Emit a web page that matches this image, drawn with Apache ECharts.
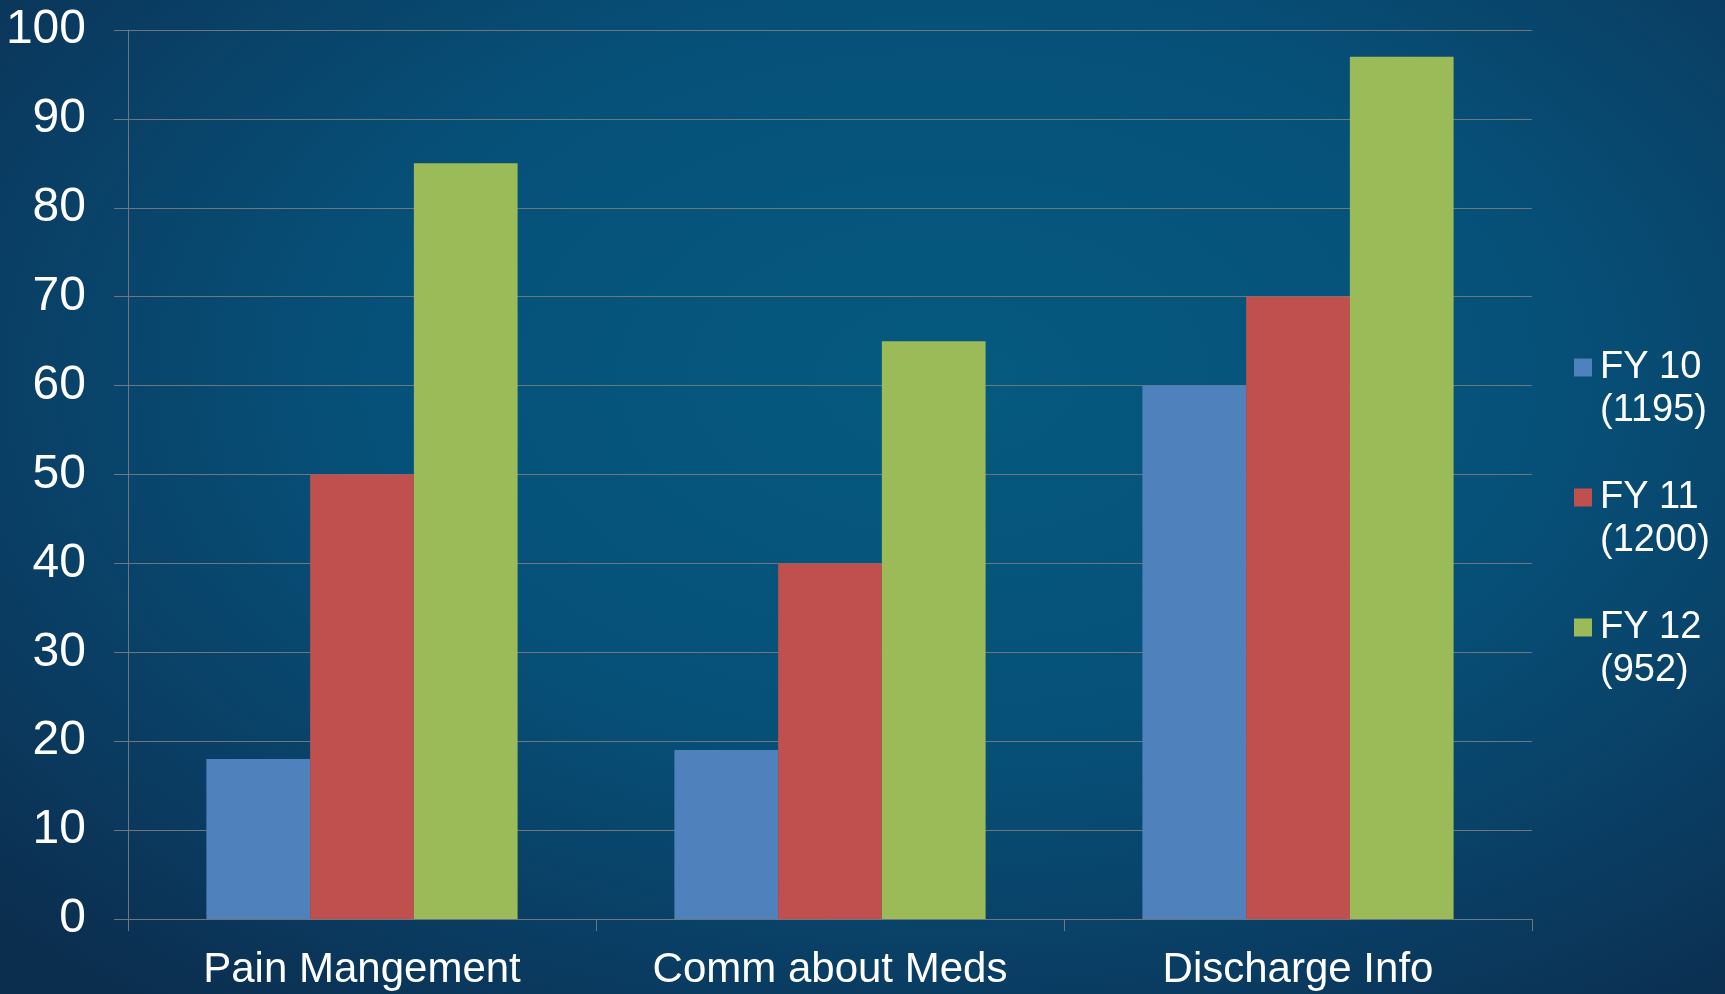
<!DOCTYPE html>
<html>
<head>
<meta charset="utf-8">
<script src="https://cdn.jsdelivr.net/npm/echarts@6/dist/echarts.min.js"></script>
<style>
  html, body { margin: 0; padding: 0; }
  body {
    width: 1725px; height: 994px; overflow: hidden;
    background: radial-gradient(ellipse 75% 80% at 55% 38%, #05597f 0%, #065179 45%, #0a3e64 75%, #0b2e4f 100%);
  }
  #chart { width: 1725px; height: 994px; }
</style>
</head>
<body>
<div id="chart"></div>
<script>
// Survey categories and yearly scores (sample size in legend)
const categories = ['Pain Mangement', 'Comm about Meds', 'Discharge Info'];
const seriesNames = ['FY 10\n(1195)', 'FY 11\n(1200)', 'FY 12\n(952)'];
const fy10 = [18, 19, 60];
const fy11 = [50, 40, 70];
const fy12 = [85, 65, 97];
const colors = ['#4f81bd', '#c0504d', '#9bbb59'];

const axisGray = '#6f777c';
const font = 'Liberation Sans, Arial, sans-serif';

const chart = echarts.init(document.getElementById('chart'), null, { renderer: 'canvas' });

const values = [fy10, fy11, fy12];
const series = values.map((data, i) => ({
  name: seriesNames[i],
  type: 'bar',
  data: data,
  barGap: '0%',
  barCategoryGap: '33.5%',
  itemStyle: { color: colors[i] },
  emphasis: { disabled: true }
}));

chart.setOption({
  backgroundColor: 'transparent',
  animation: false,
  color: colors,
  grid: { left: 128, right: 193, top: 30, bottom: 75, containLabel: false },
  legend: {
    orient: 'vertical',
    left: 1574,
    top: 303,
    padding: 0,
    itemWidth: 18,
    itemHeight: 18,
    itemGap: 1,
    icon: 'rect',
    selectedMode: false,
    formatter: name => '\n' + name,
    textStyle: {
      color: '#ffffff',
      fontFamily: font,
      fontSize: 38,
      lineHeight: 43,
      padding: [0, 0, 0, 3]
    },
    data: seriesNames
  },
  xAxis: {
    type: 'category',
    data: categories,
    axisLine: { show: true, lineStyle: { color: axisGray, width: 1 } },
    axisTick: { show: true, length: 12, alignWithLabel: false, lineStyle: { color: axisGray } },
    axisLabel: { color: '#ffffff', fontFamily: font, fontSize: 42, margin: 30 },
    splitLine: { show: false }
  },
  yAxis: {
    type: 'value',
    min: 0,
    max: 100,
    interval: 10,
    axisLine: { show: true, lineStyle: { color: axisGray, width: 1 } },
    axisTick: { show: true, length: 14, lineStyle: { color: axisGray } },
    axisLabel: { color: '#ffffff', fontFamily: font, fontSize: 48, margin: 42, padding: [5, 0, 0, 0] },
    splitLine: { show: true, lineStyle: { color: axisGray, width: 1 } }
  },
  series: series
});
</script>
</body>
</html>
